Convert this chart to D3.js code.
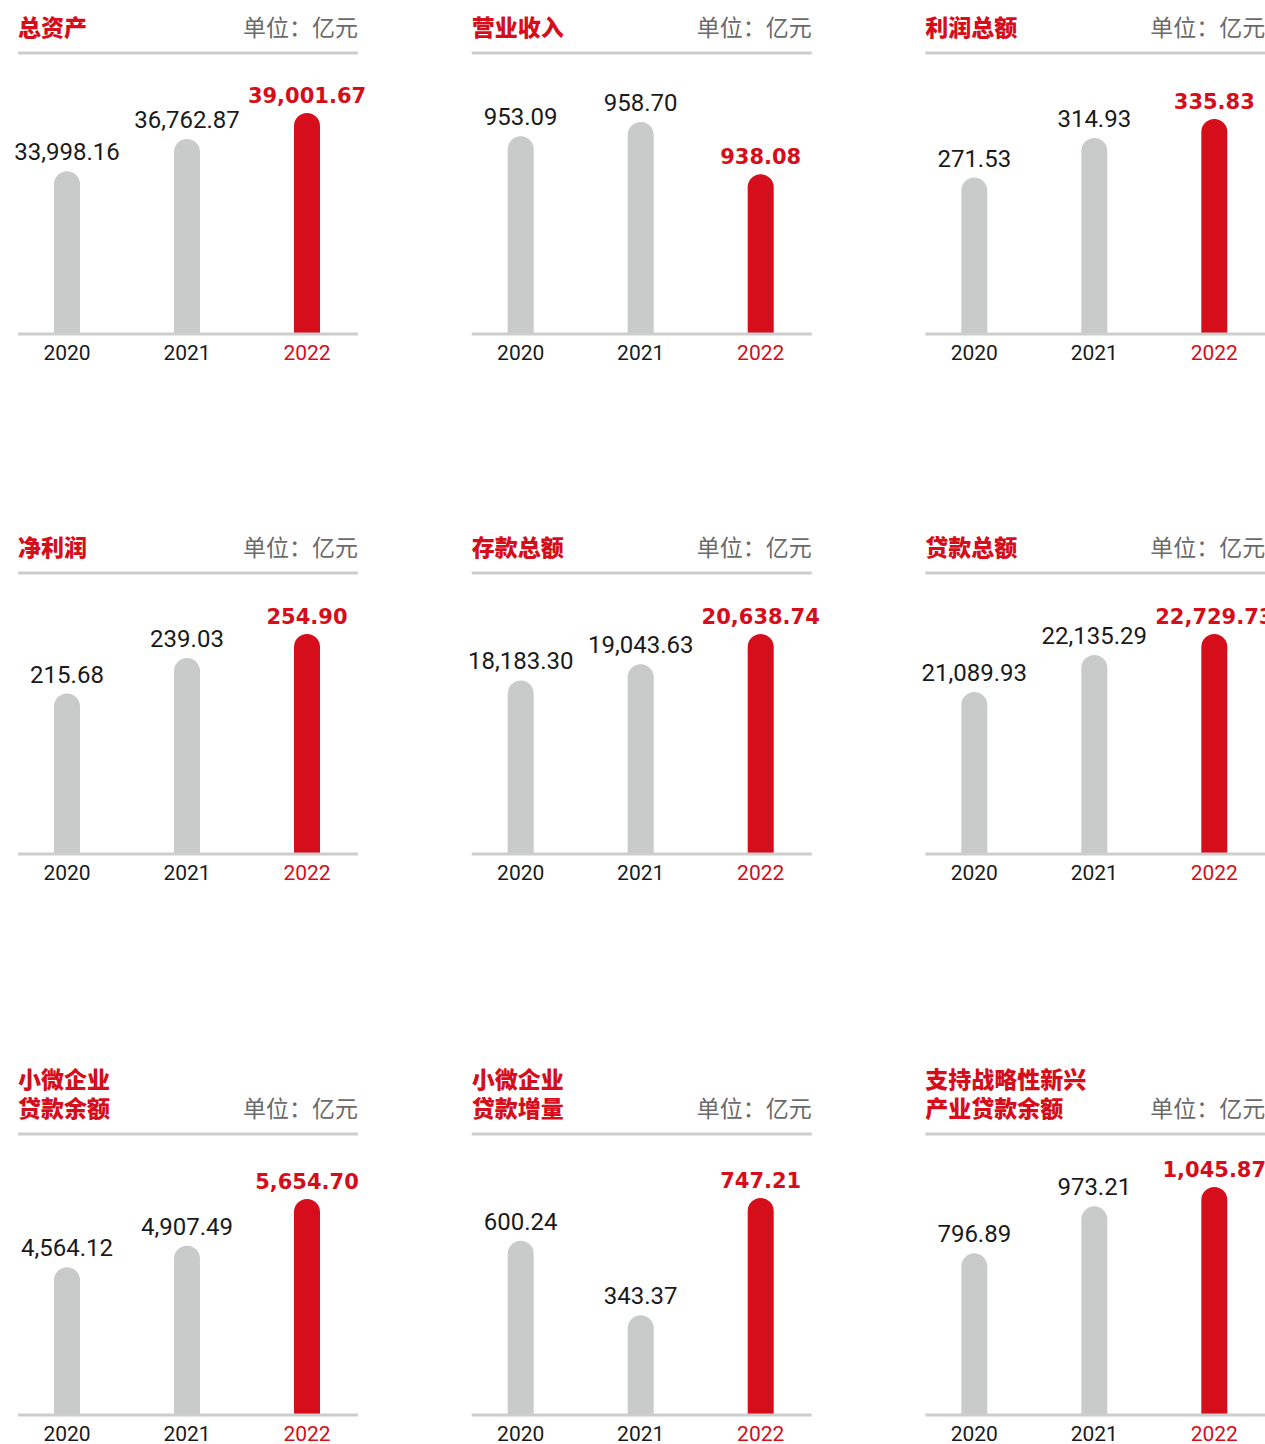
<!DOCTYPE html>
<html>
<head>
<meta charset="utf-8">
<script src="https://cdn.jsdelivr.net/npm/d3@7"></script>
<style>
  html, body { margin: 0; padding: 0; background: #fff; }
  svg { display: block; }
</style>
</head>
<body>
<svg id="chart" width="1265" height="1444"></svg>
<script>
const years = ['2020', '2021', '2022'];

const titles = [
    ['总资产'], ['营业收入'], ['利润总额'],
    ['净利润'], ['存款总额'], ['贷款总额'],
    ['小微企业', '贷款余额'], ['小微企业', '贷款增量'], ['支持战略性新兴', '产业贷款余额']
];

const values = [
    [33998.16, 36762.87, 39001.67],
    [953.09, 958.70, 938.08],
    [271.53, 314.93, 335.83],
    [215.68, 239.03, 254.90],
    [18183.30, 19043.63, 20638.74],
    [21089.93, 22135.29, 22729.73],
    [4564.12, 4907.49, 5654.70],
    [600.24, 343.37, 747.21],
    [796.89, 973.21, 1045.87]
];

const unitLabel = '单位：亿元';

// bottom of each panel's value axis (bars don't start at zero)
const domainFloor = [20000, 875, 100, 110, 9000, 16500, 2200, 0, 190];
const maxBarH = [221, 212, 215, 220, 220, 220, 216, 217, 228];

const RED = '#d60d1a';
const GREY_BAR = '#c9caca';
const RULE = '#cdcdcd';
const INK = '#1a1a1a';

const colX = [18, 471.7, 925.3];
const headerY = [53, 573, 1134]; // grey rule under the title
const panelW = 340;
const barW = 26;
const fmt = d3.format(',.2f');

const svg = d3.select('#chart');

const x = d3.scalePoint()
    .domain(years)
    .range([49, 289]);

values.forEach((vals, i) => {
    const col = i % 3;
    const row = Math.floor(i / 3);
    const top = headerY[row];
    const base = top + 281;

    const g = svg.append('g')
        .attr('transform', `translate(${colX[col]},0)`);

    const y = d3.scaleLinear()
        .domain([domainFloor[i], d3.max(vals)])
        .range([base, base - maxBarH[i]]);

    // title (one or two lines)
    const lines = titles[i];
    lines.forEach((t, k) => {
        g.append('text')
            .attr('x', 0)
            .attr('y', top - 17 - (lines.length - 1 - k) * 29)
            .attr('font-family', '"Noto Sans CJK SC", sans-serif')
            .attr('font-weight', 900)
            .attr('font-size', '23px')
            .attr('fill', RED)
            .text(t);
    });

    g.append('text')
        .attr('x', panelW)
        .attr('y', top - 17)
        .attr('text-anchor', 'end')
        .attr('font-family', '"Noto Sans CJK SC", sans-serif')
        .attr('font-size', '23px')
        .attr('fill', '#6a6a6a')
        .text(unitLabel);

    g.append('line')
        .attr('x1', 0).attr('x2', panelW)
        .attr('y1', top).attr('y2', top)
        .attr('stroke', RULE)
        .attr('stroke-width', 3);

    const data = years.map((yr, j) => ({ year: yr, value: vals[j], last: j === years.length - 1 }));

    // bars with rounded tops
    g.selectAll('.bar')
        .data(data)
        .enter()
        .append('path')
        .attr('class', 'bar')
        .attr('fill', d => d.last ? RED : GREY_BAR)
        .attr('d', d => {
            const x0 = x(d.year) - barW / 2;
            const x1 = x(d.year) + barW / 2;
            const r = barW / 2;
            const t = y(d.value);
            return `M${x0},${base} V${t + r} A${r},${r} 0 0 1 ${x1},${t + r} V${base} Z`;
        });

    g.append('line')
        .attr('x1', 0).attr('x2', panelW)
        .attr('y1', base).attr('y2', base)
        .attr('stroke', RULE)
        .attr('stroke-width', 3);

    // value labels
    g.selectAll('.val')
        .data(data)
        .enter()
        .append('text')
        .attr('class', 'val')
        .attr('x', d => x(d.year))
        .attr('y', d => y(d.value) - (d.last ? 10 : 11))
        .attr('text-anchor', 'middle')
        .attr('font-family', d => d.last ? '"DejaVu Sans", sans-serif' : 'Roboto, sans-serif')
        .attr('font-weight', d => d.last ? 700 : 400)
        .attr('font-size', d => d.last ? '21px' : '24px')
        .attr('fill', d => d.last ? RED : INK)
        .text(d => fmt(d.value));

    // year labels
    g.selectAll('.yr')
        .data(data)
        .enter()
        .append('text')
        .attr('class', 'yr')
        .attr('x', d => x(d.year))
        .attr('y', base + 26)
        .attr('text-anchor', 'middle')
        .attr('font-family', 'Roboto, sans-serif')
        .attr('font-size', '21px')
        .attr('fill', d => d.last ? RED : INK)
        .text(d => d.year);
});
</script>
</body>
</html>
